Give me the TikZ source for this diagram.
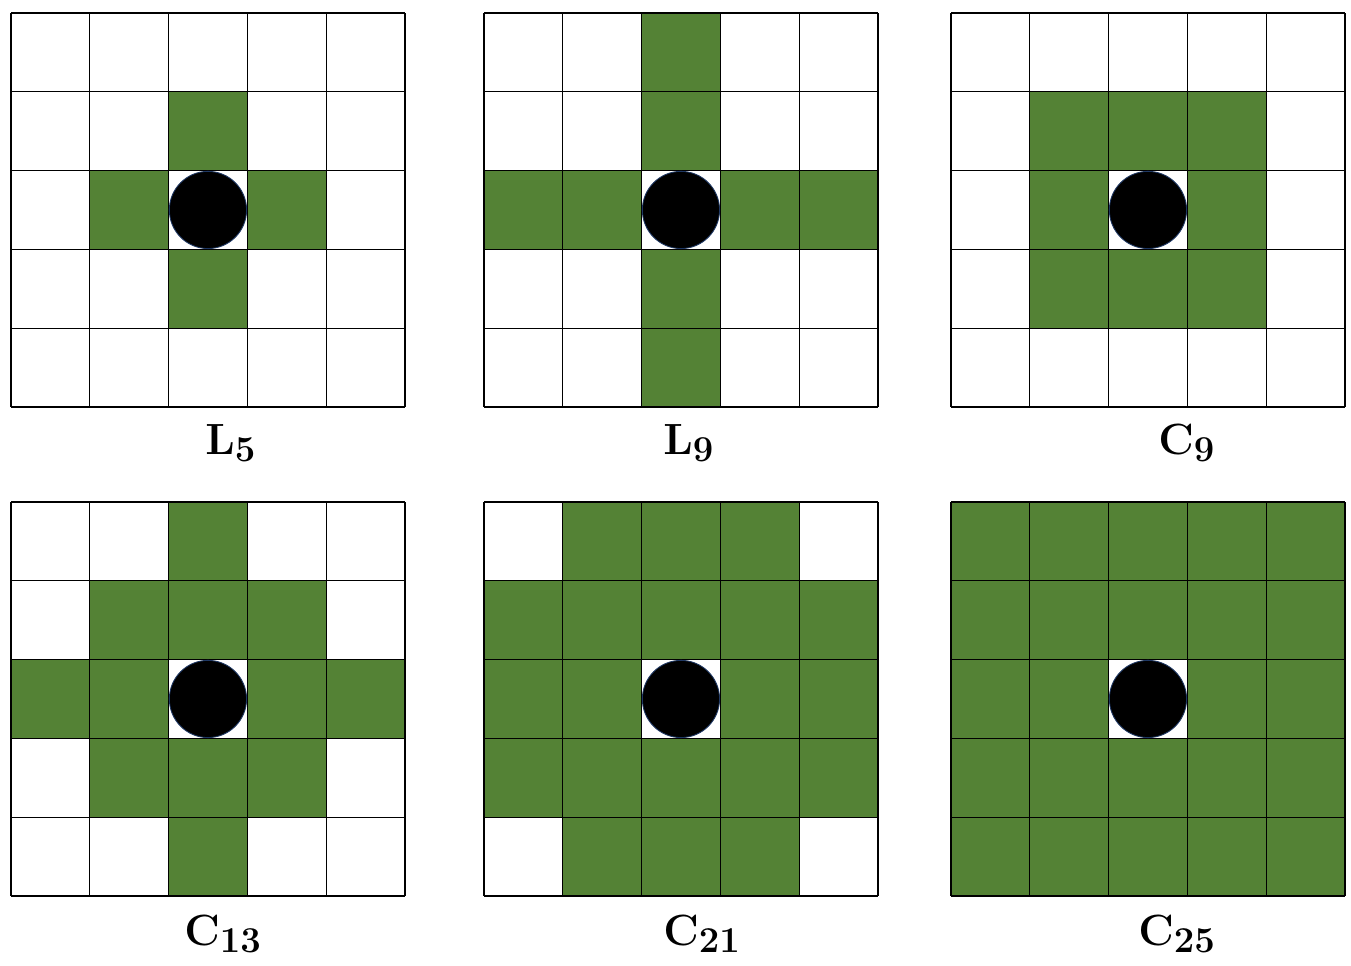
\documentclass[tikz,border=0pt]{standalone}
\usepackage{tikz}
\usetikzlibrary{positioning}
\definecolor{kgreen}{HTML}{548235}
\definecolor{rimblue}{HTML}{1F3864}

% one 5x5 kernel: #1 = pgfmath test on \i,\j (column, row)
\newcommand{\kernelgrid}[1]{%
  \foreach \i in {0,...,4}{
    \foreach \j in {0,...,4}{
      \pgfmathtruncatemacro{\on}{(#1) && !(\i==2 && \j==2)}
      \ifnum\on=1
        \fill[kgreen] (\i,\j) rectangle (\i+1,\j+1);
      \fi
    }
  }
  \foreach \k in {0,...,5}{
    \draw[gridline] (\k,0) -- (\k,5);
    \draw[gridline] (0,\k) -- (5,\k);
  }
  \fill[centre] (2.5,2.5) circle [radius=0.49];
}

\begin{document}
\begin{tikzpicture}[
    x=0.02cm, y=-0.02cm,
    gridline/.style={line width=0.7pt, color=black},
    centre/.style={fill=black, draw=rimblue, line width=0.5pt},
    cell/.style={x=1.576cm, y=-1.576cm},
    kname/.style={font=\fontsize{24.88}{30}\selectfont\boldmath, inner sep=0pt, anchor=base west}
]
\useasboundingbox (0,0) rectangle (1351,965);

% top row
\begin{scope}[shift={(11,13)}, cell]
  \kernelgrid{abs(\i-2)+abs(\j-2)==1}
\end{scope}
\begin{scope}[shift={(484,13)}, cell]
  \kernelgrid{\i==2 || \j==2}
\end{scope}
\begin{scope}[shift={(951,13)}, cell]
  \kernelgrid{max(abs(\i-2),abs(\j-2))==1}
\end{scope}

% bottom row
\begin{scope}[shift={(11,502)}, cell]
  \kernelgrid{abs(\i-2)+abs(\j-2)<=2}
\end{scope}
\begin{scope}[shift={(484,502)}, cell]
  \kernelgrid{abs(\i-2)+abs(\j-2)<=3}
\end{scope}
\begin{scope}[shift={(951,502)}, cell]
  \kernelgrid{1}
\end{scope}

% labels
\node[kname] (l5)  at (205,454)  {$\mathbf{L}_{5}$};
\node[kname] (l9)  at (663,454)  {$\mathbf{L}_{9}$};
\node[kname] (c9)  at (1158,454) {$\mathbf{C}_{9}$};
\node[kname] (c13) at (184,945)  {$\mathbf{C}_{13}$};
\node[kname] (c21) at (663,945)  {$\mathbf{C}_{21}$};
\node[kname] (c25) at (1138,945) {$\mathbf{C}_{25}$};

\end{tikzpicture}
\end{document}
